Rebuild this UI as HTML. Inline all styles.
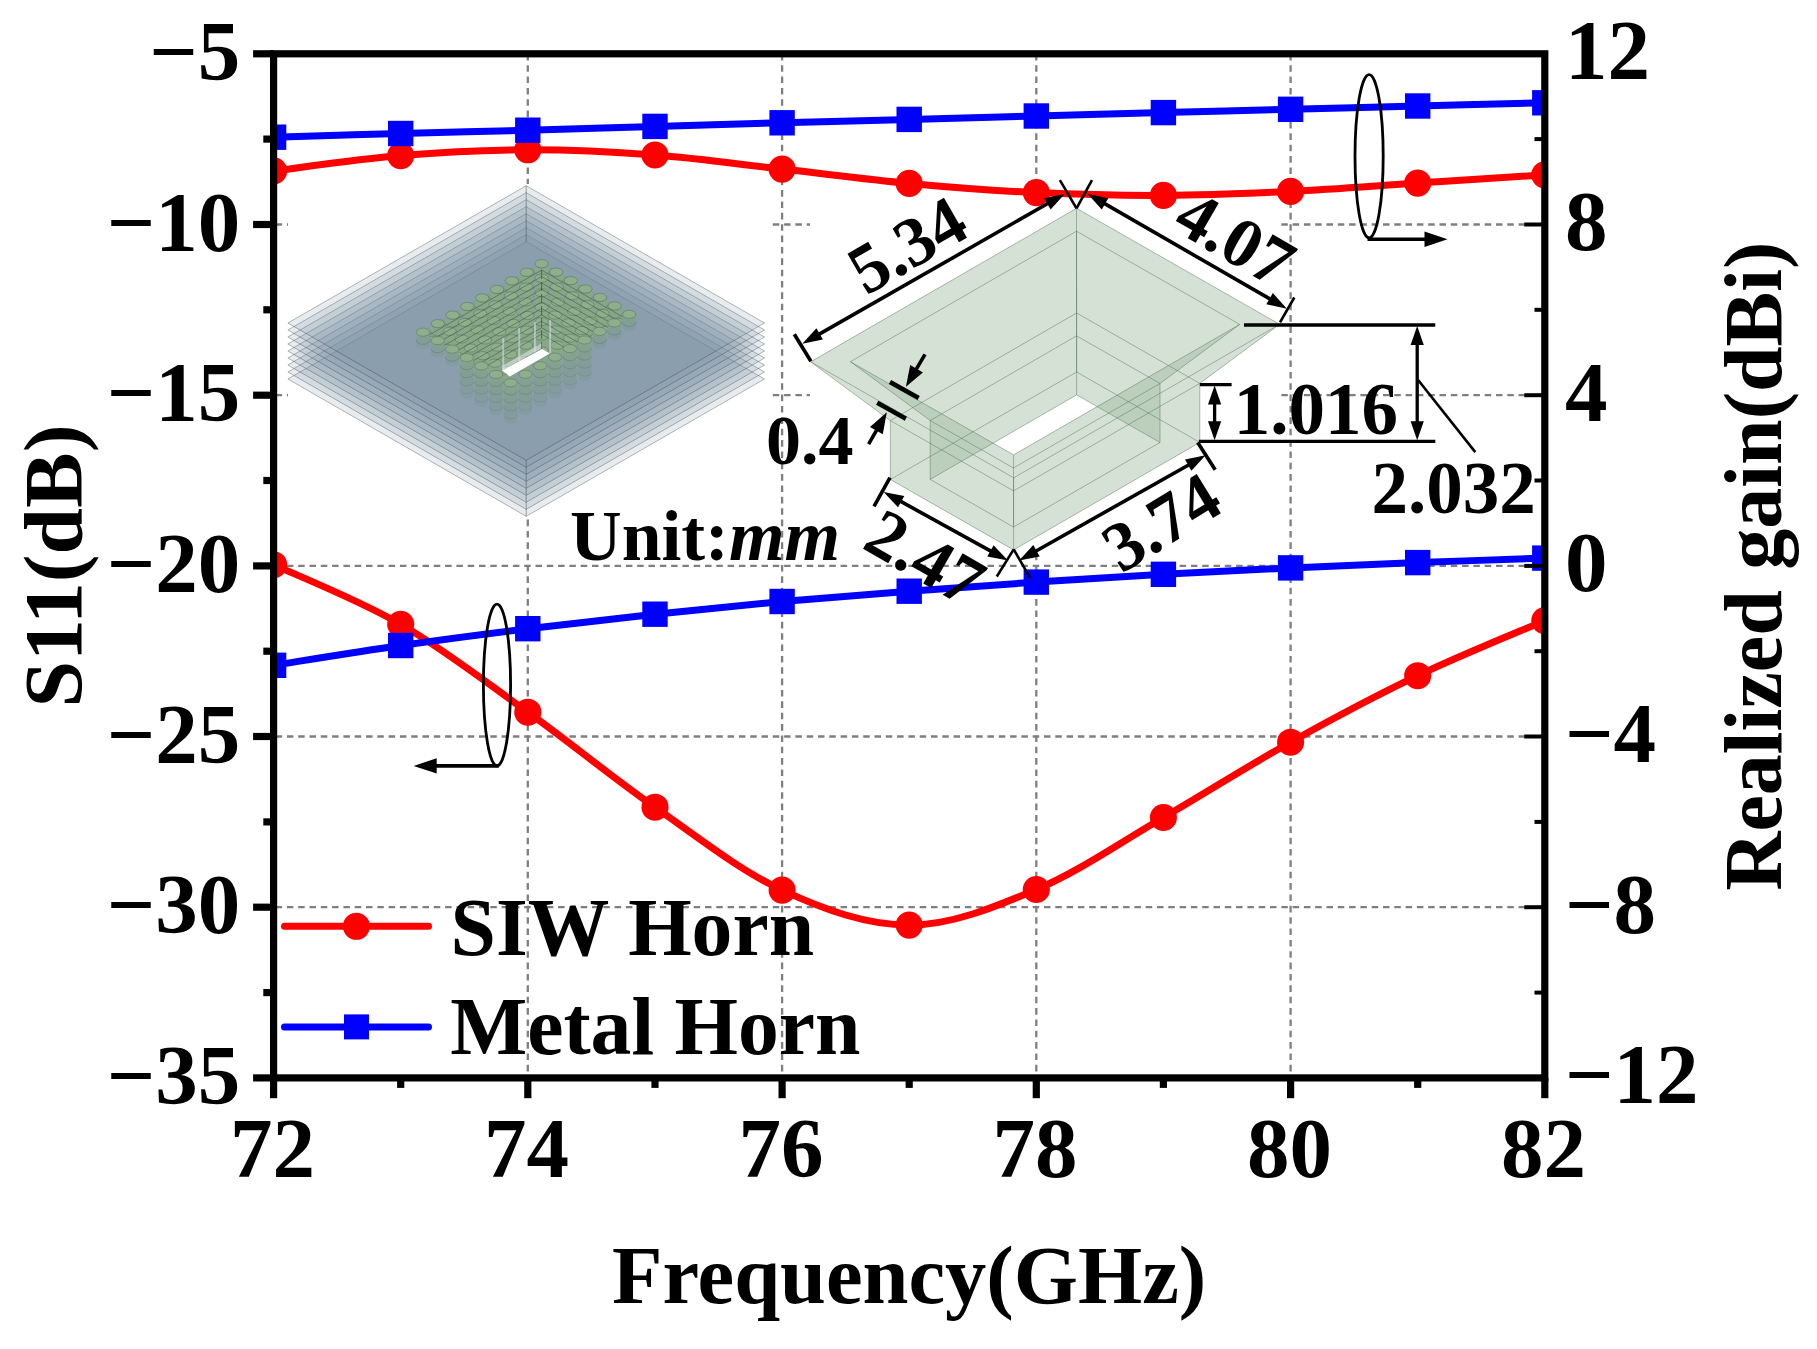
<!DOCTYPE html>
<html lang="en"><head><meta charset="utf-8"><title>S11 and realized gain</title><style>html,body{margin:0;padding:0;background:#fff}body{width:1817px;height:1349px;overflow:hidden}svg{display:block}</style></head><body><svg width="1817" height="1349" viewBox="0 0 1817 1349"><defs><clipPath id="plotclip"><rect x="273.6" y="53.8" width="1271.2" height="1024.1"/></clipPath></defs><rect width="1817" height="1349" fill="#fff"/>
<!-- grid -->
<g stroke="#7f7f7f" stroke-width="2.3" fill="none"><line x1="527.8" y1="53.8" x2="527.8" y2="1077.9" stroke-dasharray="6.6 4.76"/><line x1="782.1" y1="53.8" x2="782.1" y2="1077.9" stroke-dasharray="6.6 4.76"/><line x1="1036.3" y1="53.8" x2="1036.3" y2="1077.9" stroke-dasharray="6.6 4.76"/><line x1="1290.6" y1="53.8" x2="1290.6" y2="1077.9" stroke-dasharray="6.6 4.76"/><line x1="273.6" y1="224.5" x2="1544.8" y2="224.5" stroke-dasharray="6.5 4.8" stroke-dashoffset="-2"/><line x1="273.6" y1="395.2" x2="1544.8" y2="395.2" stroke-dasharray="6.5 4.8" stroke-dashoffset="-2"/><line x1="273.6" y1="565.9" x2="1544.8" y2="565.9" stroke-dasharray="6.5 4.8" stroke-dashoffset="-2"/><line x1="273.6" y1="736.5" x2="1544.8" y2="736.5" stroke-dasharray="6.5 4.8" stroke-dashoffset="-2"/><line x1="273.6" y1="907.2" x2="1544.8" y2="907.2" stroke-dasharray="6.5 4.8" stroke-dashoffset="-2"/></g>
<!-- insets -->
<rect x="288" y="184" width="481.5" height="334" fill="#fff"/><polygon points="526.2,241.7 764.5,379.0 526.2,516.3 287.9,379.0" fill="rgb(107,132,152)" fill-opacity="0.155" stroke="#2c3742" stroke-opacity="0.6" stroke-width="0.6"/><polygon points="526.2,234.7 764.5,372.0 526.2,509.3 287.9,372.0" fill="rgb(107,132,152)" fill-opacity="0.155" stroke="#2c3742" stroke-opacity="0.6" stroke-width="0.6"/><polygon points="526.2,227.7 764.5,365.0 526.2,502.3 287.9,365.0" fill="rgb(107,132,152)" fill-opacity="0.155" stroke="#2c3742" stroke-opacity="0.6" stroke-width="0.6"/><polygon points="526.2,220.7 764.5,358.0 526.2,495.3 287.9,358.0" fill="rgb(107,132,152)" fill-opacity="0.155" stroke="#2c3742" stroke-opacity="0.6" stroke-width="0.6"/><polygon points="526.2,213.7 764.5,351.0 526.2,488.3 287.9,351.0" fill="rgb(107,132,152)" fill-opacity="0.155" stroke="#2c3742" stroke-opacity="0.6" stroke-width="0.6"/><polygon points="526.2,206.7 764.5,344.0 526.2,481.3 287.9,344.0" fill="rgb(107,132,152)" fill-opacity="0.155" stroke="#2c3742" stroke-opacity="0.6" stroke-width="0.6"/><polygon points="526.2,199.7 764.5,337.0 526.2,474.3 287.9,337.0" fill="rgb(107,132,152)" fill-opacity="0.155" stroke="#2c3742" stroke-opacity="0.6" stroke-width="0.6"/><polygon points="526.2,192.7 764.5,330.0 526.2,467.3 287.9,330.0" fill="rgb(107,132,152)" fill-opacity="0.155" stroke="#2c3742" stroke-opacity="0.6" stroke-width="0.6"/><polygon points="526.2,185.7 764.5,323.0 526.2,460.3 287.9,323.0" fill="rgb(107,132,152)" fill-opacity="0.155" stroke="#2c3742" stroke-opacity="0.6" stroke-width="0.6"/><line x1="526.2" y1="185.7" x2="526.2" y2="241.7" stroke="#3c4650" stroke-opacity="0.6" stroke-width="0.8"/><line x1="526.2" y1="460.3" x2="526.2" y2="516.3" stroke="#3c4650" stroke-opacity="0.6" stroke-width="0.8"/><defs><linearGradient id="vgf" x1="0" y1="0" x2="0" y2="1"><stop offset="0" stop-color="#86a58a" stop-opacity="0.95"/><stop offset="0.4" stop-color="#809e8b" stop-opacity="0.78"/><stop offset="1" stop-color="#7b9590" stop-opacity="0.3"/></linearGradient><linearGradient id="vgb" x1="0" y1="0" x2="0" y2="1"><stop offset="0" stop-color="#88a888" stop-opacity="0.97"/><stop offset="1" stop-color="#86a58a" stop-opacity="0.8"/></linearGradient></defs><clipPath id="cav"><polygon points="541.6,261.7 632.2,314.3 510.6,385.8 420.0,332.2"/></clipPath><g clip-path="url(#cav)"><rect x="410" y="255" width="240" height="140" fill="#7f9d86" fill-opacity="0.28"/><path d="M534.9 263.7 v44.0 a6.7 4.1 0 0 0 13.4 0 v-44.0 z" fill="url(#vgb)"/><path d="M534.9 271.7 a6.7 4.1 0 0 0 13.4 0" fill="none" stroke="#3f5a48" stroke-opacity="0.42" stroke-width="0.6"/><path d="M534.9 279.7 a6.7 4.1 0 0 0 13.4 0" fill="none" stroke="#3f5a48" stroke-opacity="0.42" stroke-width="0.6"/><path d="M534.9 287.7 a6.7 4.1 0 0 0 13.4 0" fill="none" stroke="#3f5a48" stroke-opacity="0.42" stroke-width="0.6"/><path d="M534.9 295.7 a6.7 4.1 0 0 0 13.4 0" fill="none" stroke="#3f5a48" stroke-opacity="0.42" stroke-width="0.6"/><path d="M534.9 303.7 a6.7 4.1 0 0 0 13.4 0" fill="none" stroke="#3f5a48" stroke-opacity="0.42" stroke-width="0.6"/><ellipse cx="541.6" cy="263.7" rx="6.7" ry="4.1" fill="#8fae8c" stroke="#5a7a5e" stroke-width="0.6"/><path d="M549.5 272.1 v44.0 a6.7 4.1 0 0 0 13.4 0 v-44.0 z" fill="url(#vgb)"/><path d="M549.5 280.1 a6.7 4.1 0 0 0 13.4 0" fill="none" stroke="#3f5a48" stroke-opacity="0.42" stroke-width="0.6"/><path d="M549.5 288.1 a6.7 4.1 0 0 0 13.4 0" fill="none" stroke="#3f5a48" stroke-opacity="0.42" stroke-width="0.6"/><path d="M549.5 296.1 a6.7 4.1 0 0 0 13.4 0" fill="none" stroke="#3f5a48" stroke-opacity="0.42" stroke-width="0.6"/><path d="M549.5 304.1 a6.7 4.1 0 0 0 13.4 0" fill="none" stroke="#3f5a48" stroke-opacity="0.42" stroke-width="0.6"/><path d="M549.5 312.1 a6.7 4.1 0 0 0 13.4 0" fill="none" stroke="#3f5a48" stroke-opacity="0.42" stroke-width="0.6"/><ellipse cx="556.2" cy="272.1" rx="6.7" ry="4.1" fill="#8fae8c" stroke="#5a7a5e" stroke-width="0.6"/><path d="M520.1 272.3 v44.0 a6.7 4.1 0 0 0 13.4 0 v-44.0 z" fill="url(#vgb)"/><path d="M520.1 280.3 a6.7 4.1 0 0 0 13.4 0" fill="none" stroke="#3f5a48" stroke-opacity="0.42" stroke-width="0.6"/><path d="M520.1 288.3 a6.7 4.1 0 0 0 13.4 0" fill="none" stroke="#3f5a48" stroke-opacity="0.42" stroke-width="0.6"/><path d="M520.1 296.3 a6.7 4.1 0 0 0 13.4 0" fill="none" stroke="#3f5a48" stroke-opacity="0.42" stroke-width="0.6"/><path d="M520.1 304.3 a6.7 4.1 0 0 0 13.4 0" fill="none" stroke="#3f5a48" stroke-opacity="0.42" stroke-width="0.6"/><path d="M520.1 312.3 a6.7 4.1 0 0 0 13.4 0" fill="none" stroke="#3f5a48" stroke-opacity="0.42" stroke-width="0.6"/><ellipse cx="526.8" cy="272.3" rx="6.7" ry="4.1" fill="#8fae8c" stroke="#5a7a5e" stroke-width="0.6"/><path d="M534.9 278.2 v44.0 a6.7 4.1 0 0 0 13.4 0 v-44.0 z" fill="url(#vgb)"/><ellipse cx="541.6" cy="278.2" rx="6.7" ry="4.1" fill="#8fae8c" stroke="#5a7a5e" stroke-width="0.6"/><path d="M564.1 280.6 v44.0 a6.7 4.1 0 0 0 13.4 0 v-44.0 z" fill="url(#vgb)"/><path d="M564.1 288.6 a6.7 4.1 0 0 0 13.4 0" fill="none" stroke="#3f5a48" stroke-opacity="0.42" stroke-width="0.6"/><path d="M564.1 296.6 a6.7 4.1 0 0 0 13.4 0" fill="none" stroke="#3f5a48" stroke-opacity="0.42" stroke-width="0.6"/><path d="M564.1 304.6 a6.7 4.1 0 0 0 13.4 0" fill="none" stroke="#3f5a48" stroke-opacity="0.42" stroke-width="0.6"/><path d="M564.1 312.6 a6.7 4.1 0 0 0 13.4 0" fill="none" stroke="#3f5a48" stroke-opacity="0.42" stroke-width="0.6"/><path d="M564.1 320.6 a6.7 4.1 0 0 0 13.4 0" fill="none" stroke="#3f5a48" stroke-opacity="0.42" stroke-width="0.6"/><ellipse cx="570.8" cy="280.6" rx="6.7" ry="4.1" fill="#8fae8c" stroke="#5a7a5e" stroke-width="0.6"/><path d="M505.2 280.8 v44.0 a6.7 4.1 0 0 0 13.4 0 v-44.0 z" fill="url(#vgb)"/><path d="M505.2 288.8 a6.7 4.1 0 0 0 13.4 0" fill="none" stroke="#3f5a48" stroke-opacity="0.42" stroke-width="0.6"/><path d="M505.2 296.8 a6.7 4.1 0 0 0 13.4 0" fill="none" stroke="#3f5a48" stroke-opacity="0.42" stroke-width="0.6"/><path d="M505.2 304.8 a6.7 4.1 0 0 0 13.4 0" fill="none" stroke="#3f5a48" stroke-opacity="0.42" stroke-width="0.6"/><path d="M505.2 312.8 a6.7 4.1 0 0 0 13.4 0" fill="none" stroke="#3f5a48" stroke-opacity="0.42" stroke-width="0.6"/><path d="M505.2 320.8 a6.7 4.1 0 0 0 13.4 0" fill="none" stroke="#3f5a48" stroke-opacity="0.42" stroke-width="0.6"/><ellipse cx="511.9" cy="280.8" rx="6.7" ry="4.1" fill="#8fae8c" stroke="#5a7a5e" stroke-width="0.6"/><path d="M550.2 287.0 v44.0 a6.7 4.1 0 0 0 13.4 0 v-44.0 z" fill="url(#vgb)"/><ellipse cx="556.9" cy="287.0" rx="6.7" ry="4.1" fill="#8fae8c" stroke="#5a7a5e" stroke-width="0.6"/><path d="M519.6 287.1 v44.0 a6.7 4.1 0 0 0 13.4 0 v-44.0 z" fill="url(#vgb)"/><ellipse cx="526.3" cy="287.1" rx="6.7" ry="4.1" fill="#8fae8c" stroke="#5a7a5e" stroke-width="0.6"/><path d="M534.9 292.7 v40.0 a6.7 4.1 0 0 0 13.4 0 v-40.0 z" fill="url(#vgb)"/><ellipse cx="541.6" cy="292.7" rx="6.7" ry="4.1" fill="#8fae8c" stroke="#5a7a5e" stroke-width="0.6"/><path d="M578.7 289.0 v44.0 a6.7 4.1 0 0 0 13.4 0 v-44.0 z" fill="url(#vgb)"/><path d="M578.7 297.0 a6.7 4.1 0 0 0 13.4 0" fill="none" stroke="#3f5a48" stroke-opacity="0.42" stroke-width="0.6"/><path d="M578.7 305.0 a6.7 4.1 0 0 0 13.4 0" fill="none" stroke="#3f5a48" stroke-opacity="0.42" stroke-width="0.6"/><path d="M578.7 313.0 a6.7 4.1 0 0 0 13.4 0" fill="none" stroke="#3f5a48" stroke-opacity="0.42" stroke-width="0.6"/><path d="M578.7 321.0 a6.7 4.1 0 0 0 13.4 0" fill="none" stroke="#3f5a48" stroke-opacity="0.42" stroke-width="0.6"/><path d="M578.7 329.0 a6.7 4.1 0 0 0 13.4 0" fill="none" stroke="#3f5a48" stroke-opacity="0.42" stroke-width="0.6"/><ellipse cx="585.4" cy="289.0" rx="6.7" ry="4.1" fill="#8fae8c" stroke="#5a7a5e" stroke-width="0.6"/><path d="M490.4 289.4 v44.0 a6.7 4.1 0 0 0 13.4 0 v-44.0 z" fill="url(#vgb)"/><path d="M490.4 297.4 a6.7 4.1 0 0 0 13.4 0" fill="none" stroke="#3f5a48" stroke-opacity="0.42" stroke-width="0.6"/><path d="M490.4 305.4 a6.7 4.1 0 0 0 13.4 0" fill="none" stroke="#3f5a48" stroke-opacity="0.42" stroke-width="0.6"/><path d="M490.4 313.4 a6.7 4.1 0 0 0 13.4 0" fill="none" stroke="#3f5a48" stroke-opacity="0.42" stroke-width="0.6"/><path d="M490.4 321.4 a6.7 4.1 0 0 0 13.4 0" fill="none" stroke="#3f5a48" stroke-opacity="0.42" stroke-width="0.6"/><path d="M490.4 329.4 a6.7 4.1 0 0 0 13.4 0" fill="none" stroke="#3f5a48" stroke-opacity="0.42" stroke-width="0.6"/><ellipse cx="497.1" cy="289.4" rx="6.7" ry="4.1" fill="#8fae8c" stroke="#5a7a5e" stroke-width="0.6"/><path d="M534.9 307.2 v32.0 a6.7 4.1 0 0 0 13.4 0 v-32.0 z" fill="url(#vgb)"/><ellipse cx="541.6" cy="307.2" rx="6.7" ry="4.1" fill="#8fae8c" stroke="#5a7a5e" stroke-width="0.6"/><path d="M565.5 295.8 v44.0 a6.7 4.1 0 0 0 13.4 0 v-44.0 z" fill="url(#vgb)"/><ellipse cx="572.2" cy="295.8" rx="6.7" ry="4.1" fill="#8fae8c" stroke="#5a7a5e" stroke-width="0.6"/><path d="M504.2 295.9 v44.0 a6.7 4.1 0 0 0 13.4 0 v-44.0 z" fill="url(#vgb)"/><ellipse cx="510.9" cy="295.9" rx="6.7" ry="4.1" fill="#8fae8c" stroke="#5a7a5e" stroke-width="0.6"/><path d="M593.3 297.4 v44.0 a6.7 4.1 0 0 0 13.4 0 v-44.0 z" fill="url(#vgb)"/><path d="M593.3 305.4 a6.7 4.1 0 0 0 13.4 0" fill="none" stroke="#3f5a48" stroke-opacity="0.42" stroke-width="0.6"/><path d="M593.3 313.4 a6.7 4.1 0 0 0 13.4 0" fill="none" stroke="#3f5a48" stroke-opacity="0.42" stroke-width="0.6"/><path d="M593.3 321.4 a6.7 4.1 0 0 0 13.4 0" fill="none" stroke="#3f5a48" stroke-opacity="0.42" stroke-width="0.6"/><path d="M593.3 329.4 a6.7 4.1 0 0 0 13.4 0" fill="none" stroke="#3f5a48" stroke-opacity="0.42" stroke-width="0.6"/><path d="M593.3 337.4 a6.7 4.1 0 0 0 13.4 0" fill="none" stroke="#3f5a48" stroke-opacity="0.42" stroke-width="0.6"/><ellipse cx="600.0" cy="297.4" rx="6.7" ry="4.1" fill="#8fae8c" stroke="#5a7a5e" stroke-width="0.6"/><path d="M475.6 297.9 v44.0 a6.7 4.1 0 0 0 13.4 0 v-44.0 z" fill="url(#vgb)"/><path d="M475.6 305.9 a6.7 4.1 0 0 0 13.4 0" fill="none" stroke="#3f5a48" stroke-opacity="0.42" stroke-width="0.6"/><path d="M475.6 313.9 a6.7 4.1 0 0 0 13.4 0" fill="none" stroke="#3f5a48" stroke-opacity="0.42" stroke-width="0.6"/><path d="M475.6 321.9 a6.7 4.1 0 0 0 13.4 0" fill="none" stroke="#3f5a48" stroke-opacity="0.42" stroke-width="0.6"/><path d="M475.6 329.9 a6.7 4.1 0 0 0 13.4 0" fill="none" stroke="#3f5a48" stroke-opacity="0.42" stroke-width="0.6"/><path d="M475.6 337.9 a6.7 4.1 0 0 0 13.4 0" fill="none" stroke="#3f5a48" stroke-opacity="0.42" stroke-width="0.6"/><ellipse cx="482.3" cy="297.9" rx="6.7" ry="4.1" fill="#8fae8c" stroke="#5a7a5e" stroke-width="0.6"/><path d="M518.9 301.9 v40.0 a6.7 4.1 0 0 0 13.4 0 v-40.0 z" fill="url(#vgb)"/><ellipse cx="525.6" cy="301.9" rx="6.7" ry="4.1" fill="#8fae8c" stroke="#5a7a5e" stroke-width="0.6"/><path d="M551.2 302.1 v40.0 a6.7 4.1 0 0 0 13.4 0 v-40.0 z" fill="url(#vgb)"/><ellipse cx="557.9" cy="302.1" rx="6.7" ry="4.1" fill="#8fae8c" stroke="#5a7a5e" stroke-width="0.6"/><path d="M534.9 321.7 v24.0 a6.7 4.1 0 0 0 13.4 0 v-24.0 z" fill="url(#vgb)"/><ellipse cx="541.6" cy="321.7" rx="6.7" ry="4.1" fill="#8fae8c" stroke="#5a7a5e" stroke-width="0.6"/><path d="M548.4 315.0 v32.0 a6.7 4.1 0 0 0 13.4 0 v-32.0 z" fill="url(#vgb)"/><ellipse cx="555.1" cy="315.0" rx="6.7" ry="4.1" fill="#8fae8c" stroke="#5a7a5e" stroke-width="0.6"/><path d="M520.8 315.4 v32.0 a6.7 4.1 0 0 0 13.4 0 v-32.0 z" fill="url(#vgb)"/><ellipse cx="527.5" cy="315.4" rx="6.7" ry="4.1" fill="#8fae8c" stroke="#5a7a5e" stroke-width="0.6"/><path d="M580.7 304.7 v44.0 a6.7 4.1 0 0 0 13.4 0 v-44.0 z" fill="url(#vgb)"/><ellipse cx="587.4" cy="304.7" rx="6.7" ry="4.1" fill="#8fae8c" stroke="#5a7a5e" stroke-width="0.6"/><path d="M488.9 304.8 v44.0 a6.7 4.1 0 0 0 13.4 0 v-44.0 z" fill="url(#vgb)"/><ellipse cx="495.6" cy="304.8" rx="6.7" ry="4.1" fill="#8fae8c" stroke="#5a7a5e" stroke-width="0.6"/><path d="M607.9 305.9 v44.0 a6.7 4.1 0 0 0 13.4 0 v-44.0 z" fill="url(#vgb)"/><path d="M607.9 313.9 a6.7 4.1 0 0 0 13.4 0" fill="none" stroke="#3f5a48" stroke-opacity="0.42" stroke-width="0.6"/><path d="M607.9 321.9 a6.7 4.1 0 0 0 13.4 0" fill="none" stroke="#3f5a48" stroke-opacity="0.42" stroke-width="0.6"/><path d="M607.9 329.9 a6.7 4.1 0 0 0 13.4 0" fill="none" stroke="#3f5a48" stroke-opacity="0.42" stroke-width="0.6"/><path d="M607.9 337.9 a6.7 4.1 0 0 0 13.4 0" fill="none" stroke="#3f5a48" stroke-opacity="0.42" stroke-width="0.6"/><path d="M607.9 345.9 a6.7 4.1 0 0 0 13.4 0" fill="none" stroke="#3f5a48" stroke-opacity="0.42" stroke-width="0.6"/><ellipse cx="614.6" cy="305.9" rx="6.7" ry="4.1" fill="#8fae8c" stroke="#5a7a5e" stroke-width="0.6"/><path d="M460.7 306.5 v44.0 a6.7 4.1 0 0 0 13.4 0 v-44.0 z" fill="url(#vgb)"/><path d="M460.7 314.5 a6.7 4.1 0 0 0 13.4 0" fill="none" stroke="#3f5a48" stroke-opacity="0.42" stroke-width="0.6"/><path d="M460.7 322.5 a6.7 4.1 0 0 0 13.4 0" fill="none" stroke="#3f5a48" stroke-opacity="0.42" stroke-width="0.6"/><path d="M460.7 330.5 a6.7 4.1 0 0 0 13.4 0" fill="none" stroke="#3f5a48" stroke-opacity="0.42" stroke-width="0.6"/><path d="M460.7 338.5 a6.7 4.1 0 0 0 13.4 0" fill="none" stroke="#3f5a48" stroke-opacity="0.42" stroke-width="0.6"/><path d="M460.7 346.5 a6.7 4.1 0 0 0 13.4 0" fill="none" stroke="#3f5a48" stroke-opacity="0.42" stroke-width="0.6"/><ellipse cx="467.4" cy="306.5" rx="6.7" ry="4.1" fill="#8fae8c" stroke="#5a7a5e" stroke-width="0.6"/><path d="M502.9 311.2 v40.0 a6.7 4.1 0 0 0 13.4 0 v-40.0 z" fill="url(#vgb)"/><ellipse cx="509.6" cy="311.2" rx="6.7" ry="4.1" fill="#8fae8c" stroke="#5a7a5e" stroke-width="0.6"/><path d="M567.5 311.5 v40.0 a6.7 4.1 0 0 0 13.4 0 v-40.0 z" fill="url(#vgb)"/><ellipse cx="574.2" cy="311.5" rx="6.7" ry="4.1" fill="#8fae8c" stroke="#5a7a5e" stroke-width="0.6"/><path d="M534.9 336.2 v16.0 a6.7 4.1 0 0 0 13.4 0 v-16.0 z" fill="url(#vgb)"/><ellipse cx="541.6" cy="336.2" rx="6.7" ry="4.1" fill="#8fae8c" stroke="#5a7a5e" stroke-width="0.6"/><path d="M549.1 329.9 v24.0 a6.7 4.1 0 0 0 13.4 0 v-24.0 z" fill="url(#vgb)"/><ellipse cx="555.8" cy="329.9" rx="6.7" ry="4.1" fill="#8fae8c" stroke="#5a7a5e" stroke-width="0.6"/><path d="M520.2 330.2 v24.0 a6.7 4.1 0 0 0 13.4 0 v-24.0 z" fill="url(#vgb)"/><ellipse cx="526.9" cy="330.2" rx="6.7" ry="4.1" fill="#8fae8c" stroke="#5a7a5e" stroke-width="0.6"/><path d="M561.8 322.8 v32.0 a6.7 4.1 0 0 0 13.4 0 v-32.0 z" fill="url(#vgb)"/><ellipse cx="568.5" cy="322.8" rx="6.7" ry="4.1" fill="#8fae8c" stroke="#5a7a5e" stroke-width="0.6"/><path d="M506.6 323.5 v32.0 a6.7 4.1 0 0 0 13.4 0 v-32.0 z" fill="url(#vgb)"/><ellipse cx="513.3" cy="323.5" rx="6.7" ry="4.1" fill="#8fae8c" stroke="#5a7a5e" stroke-width="0.6"/><path d="M596.0 313.5 v44.0 a6.7 4.1 0 0 0 13.4 0 v-44.0 z" fill="url(#vgb)"/><ellipse cx="602.7" cy="313.5" rx="6.7" ry="4.1" fill="#8fae8c" stroke="#5a7a5e" stroke-width="0.6"/><path d="M473.5 313.6 v44.0 a6.7 4.1 0 0 0 13.4 0 v-44.0 z" fill="url(#vgb)"/><ellipse cx="480.2" cy="313.6" rx="6.7" ry="4.1" fill="#8fae8c" stroke="#5a7a5e" stroke-width="0.6"/><path d="M534.9 350.7 v8.0 a6.7 4.1 0 0 0 13.4 0 v-8.0 z" fill="url(#vgb)"/><ellipse cx="541.6" cy="350.7" rx="6.7" ry="4.1" fill="#8fae8c" stroke="#5a7a5e" stroke-width="0.6"/><path d="M445.9 315.1 v44.0 a6.7 4.1 0 0 0 13.4 0 v-44.0 z" fill="url(#vgb)"/><path d="M445.9 323.1 a6.7 4.1 0 0 0 13.4 0" fill="none" stroke="#3f5a48" stroke-opacity="0.42" stroke-width="0.6"/><path d="M445.9 331.1 a6.7 4.1 0 0 0 13.4 0" fill="none" stroke="#3f5a48" stroke-opacity="0.42" stroke-width="0.6"/><path d="M445.9 339.1 a6.7 4.1 0 0 0 13.4 0" fill="none" stroke="#3f5a48" stroke-opacity="0.42" stroke-width="0.6"/><path d="M445.9 347.1 a6.7 4.1 0 0 0 13.4 0" fill="none" stroke="#3f5a48" stroke-opacity="0.42" stroke-width="0.6"/><path d="M445.9 355.1 a6.7 4.1 0 0 0 13.4 0" fill="none" stroke="#3f5a48" stroke-opacity="0.42" stroke-width="0.6"/><ellipse cx="452.6" cy="315.1" rx="6.7" ry="4.1" fill="#8fae8c" stroke="#5a7a5e" stroke-width="0.6"/><path d="M486.8 320.4 v40.0 a6.7 4.1 0 0 0 13.4 0 v-40.0 z" fill="url(#vgb)"/><ellipse cx="493.5" cy="320.4" rx="6.7" ry="4.1" fill="#8fae8c" stroke="#5a7a5e" stroke-width="0.6"/><path d="M583.7 320.9 v40.0 a6.7 4.1 0 0 0 13.4 0 v-40.0 z" fill="url(#vgb)"/><ellipse cx="590.4" cy="320.9" rx="6.7" ry="4.1" fill="#8fae8c" stroke="#5a7a5e" stroke-width="0.6"/><path d="M519.3 345.2 v16.0 a6.7 4.1 0 0 0 13.4 0 v-16.0 z" fill="url(#vgb)"/><ellipse cx="526.0" cy="345.2" rx="6.7" ry="4.1" fill="#8fae8c" stroke="#5a7a5e" stroke-width="0.6"/><path d="M550.6 345.2 v16.0 a6.7 4.1 0 0 0 13.4 0 v-16.0 z" fill="url(#vgb)"/><ellipse cx="557.3" cy="345.2" rx="6.7" ry="4.1" fill="#8fae8c" stroke="#5a7a5e" stroke-width="0.6"/><path d="M563.3 338.1 v24.0 a6.7 4.1 0 0 0 13.4 0 v-24.0 z" fill="url(#vgb)"/><ellipse cx="570.0" cy="338.1" rx="6.7" ry="4.1" fill="#8fae8c" stroke="#5a7a5e" stroke-width="0.6"/><path d="M575.3 330.5 v32.0 a6.7 4.1 0 0 0 13.4 0 v-32.0 z" fill="url(#vgb)"/><ellipse cx="582.0" cy="330.5" rx="6.7" ry="4.1" fill="#8fae8c" stroke="#5a7a5e" stroke-width="0.6"/><path d="M505.5 338.7 v24.0 a6.7 4.1 0 0 0 13.4 0 v-24.0 z" fill="url(#vgb)"/><ellipse cx="512.2" cy="338.7" rx="6.7" ry="4.1" fill="#8fae8c" stroke="#5a7a5e" stroke-width="0.6"/><path d="M492.5 331.7 v32.0 a6.7 4.1 0 0 0 13.4 0 v-32.0 z" fill="url(#vgb)"/><ellipse cx="499.2" cy="331.7" rx="6.7" ry="4.1" fill="#8fae8c" stroke="#5a7a5e" stroke-width="0.6"/><path d="M611.3 322.3 v44.0 a6.7 4.1 0 0 0 13.4 0 v-44.0 z" fill="url(#vgb)"/><ellipse cx="618.0" cy="322.3" rx="6.7" ry="4.1" fill="#8fae8c" stroke="#5a7a5e" stroke-width="0.6"/><path d="M458.2 322.5 v44.0 a6.7 4.1 0 0 0 13.4 0 v-44.0 z" fill="url(#vgb)"/><ellipse cx="464.9" cy="322.5" rx="6.7" ry="4.1" fill="#8fae8c" stroke="#5a7a5e" stroke-width="0.6"/><path d="M431.1 323.6 v44.0 a6.7 4.1 0 0 0 13.4 0 v-44.0 z" fill="url(#vgb)"/><path d="M431.1 331.6 a6.7 4.1 0 0 0 13.4 0" fill="none" stroke="#3f5a48" stroke-opacity="0.42" stroke-width="0.6"/><path d="M431.1 339.6 a6.7 4.1 0 0 0 13.4 0" fill="none" stroke="#3f5a48" stroke-opacity="0.42" stroke-width="0.6"/><path d="M431.1 347.6 a6.7 4.1 0 0 0 13.4 0" fill="none" stroke="#3f5a48" stroke-opacity="0.42" stroke-width="0.6"/><path d="M431.1 355.6 a6.7 4.1 0 0 0 13.4 0" fill="none" stroke="#3f5a48" stroke-opacity="0.42" stroke-width="0.6"/><path d="M431.1 363.6 a6.7 4.1 0 0 0 13.4 0" fill="none" stroke="#3f5a48" stroke-opacity="0.42" stroke-width="0.6"/><ellipse cx="437.8" cy="323.6" rx="6.7" ry="4.1" fill="#8fae8c" stroke="#5a7a5e" stroke-width="0.6"/><path d="M517.9 360.5 v8.0 a6.7 4.1 0 0 0 13.4 0 v-8.0 z" fill="url(#vgb)"/><ellipse cx="524.6" cy="360.5" rx="6.7" ry="4.1" fill="#8fae8c" stroke="#5a7a5e" stroke-width="0.6"/><path d="M470.8 329.7 v40.0 a6.7 4.1 0 0 0 13.4 0 v-40.0 z" fill="url(#vgb)"/><ellipse cx="477.5" cy="329.7" rx="6.7" ry="4.1" fill="#8fae8c" stroke="#5a7a5e" stroke-width="0.6"/><path d="M503.7 354.2 v16.0 a6.7 4.1 0 0 0 13.4 0 v-16.0 z" fill="url(#vgb)"/><ellipse cx="510.4" cy="354.2" rx="6.7" ry="4.1" fill="#8fae8c" stroke="#5a7a5e" stroke-width="0.6"/><path d="M555.0 362.3 v8.0 a6.7 4.1 0 0 0 13.4 0 v-8.0 z" fill="url(#vgb)"/><ellipse cx="561.7" cy="362.3" rx="6.7" ry="4.1" fill="#8fae8c" stroke="#5a7a5e" stroke-width="0.6"/><path d="M566.2 354.3 v16.0 a6.7 4.1 0 0 0 13.4 0 v-16.0 z" fill="url(#vgb)"/><ellipse cx="572.9" cy="354.3" rx="6.7" ry="4.1" fill="#8fae8c" stroke="#5a7a5e" stroke-width="0.6"/><path d="M577.5 346.3 v24.0 a6.7 4.1 0 0 0 13.4 0 v-24.0 z" fill="url(#vgb)"/><ellipse cx="584.2" cy="346.3" rx="6.7" ry="4.1" fill="#8fae8c" stroke="#5a7a5e" stroke-width="0.6"/><path d="M588.8 338.3 v32.0 a6.7 4.1 0 0 0 13.4 0 v-32.0 z" fill="url(#vgb)"/><ellipse cx="595.5" cy="338.3" rx="6.7" ry="4.1" fill="#8fae8c" stroke="#5a7a5e" stroke-width="0.6"/><path d="M600.0 330.3 v40.0 a6.7 4.1 0 0 0 13.4 0 v-40.0 z" fill="url(#vgb)"/><ellipse cx="606.7" cy="330.3" rx="6.7" ry="4.1" fill="#8fae8c" stroke="#5a7a5e" stroke-width="0.6"/><path d="M490.7 347.2 v24.0 a6.7 4.1 0 0 0 13.4 0 v-24.0 z" fill="url(#vgb)"/><ellipse cx="497.4" cy="347.2" rx="6.7" ry="4.1" fill="#8fae8c" stroke="#5a7a5e" stroke-width="0.6"/><path d="M478.3 339.9 v32.0 a6.7 4.1 0 0 0 13.4 0 v-32.0 z" fill="url(#vgb)"/><ellipse cx="485.0" cy="339.9" rx="6.7" ry="4.1" fill="#8fae8c" stroke="#5a7a5e" stroke-width="0.6"/><path d="M442.9 331.3 v44.0 a6.7 4.1 0 0 0 13.4 0 v-44.0 z" fill="url(#vgb)"/><ellipse cx="449.6" cy="331.3" rx="6.7" ry="4.1" fill="#8fae8c" stroke="#5a7a5e" stroke-width="0.6"/><path d="M500.8 370.4 v8.0 a6.7 4.1 0 0 0 13.4 0 v-8.0 z" fill="url(#vgb)"/><ellipse cx="507.5" cy="370.4" rx="6.7" ry="4.1" fill="#8fae8c" stroke="#5a7a5e" stroke-width="0.6"/><path d="M454.8 338.9 v40.0 a6.7 4.1 0 0 0 13.4 0 v-40.0 z" fill="url(#vgb)"/><ellipse cx="461.5" cy="338.9" rx="6.7" ry="4.1" fill="#8fae8c" stroke="#5a7a5e" stroke-width="0.6"/><path d="M488.1 363.2 v16.0 a6.7 4.1 0 0 0 13.4 0 v-16.0 z" fill="url(#vgb)"/><ellipse cx="494.8" cy="363.2" rx="6.7" ry="4.1" fill="#8fae8c" stroke="#5a7a5e" stroke-width="0.6"/><path d="M476.0 355.7 v24.0 a6.7 4.1 0 0 0 13.4 0 v-24.0 z" fill="url(#vgb)"/><ellipse cx="482.7" cy="355.7" rx="6.7" ry="4.1" fill="#8fae8c" stroke="#5a7a5e" stroke-width="0.6"/><path d="M464.2 348.0 v32.0 a6.7 4.1 0 0 0 13.4 0 v-32.0 z" fill="url(#vgb)"/><ellipse cx="470.9" cy="348.0" rx="6.7" ry="4.1" fill="#8fae8c" stroke="#5a7a5e" stroke-width="0.6"/><path d="M427.5 340.2 v44.0 a6.7 4.1 0 0 0 13.4 0 v-44.0 z" fill="url(#vgb)"/><ellipse cx="434.2" cy="340.2" rx="6.7" ry="4.1" fill="#8fae8c" stroke="#5a7a5e" stroke-width="0.6"/><path d="M438.8 348.2 v40.0 a6.7 4.1 0 0 0 13.4 0 v-40.0 z" fill="url(#vgb)"/><ellipse cx="445.5" cy="348.2" rx="6.7" ry="4.1" fill="#8fae8c" stroke="#5a7a5e" stroke-width="0.6"/><path d="M450.0 356.2 v32.0 a6.7 4.1 0 0 0 13.4 0 v-32.0 z" fill="url(#vgb)"/><ellipse cx="456.7" cy="356.2" rx="6.7" ry="4.1" fill="#8fae8c" stroke="#5a7a5e" stroke-width="0.6"/><path d="M461.3 364.2 v24.0 a6.7 4.1 0 0 0 13.4 0 v-24.0 z" fill="url(#vgb)"/><ellipse cx="468.0" cy="364.2" rx="6.7" ry="4.1" fill="#8fae8c" stroke="#5a7a5e" stroke-width="0.6"/><path d="M472.5 372.2 v16.0 a6.7 4.1 0 0 0 13.4 0 v-16.0 z" fill="url(#vgb)"/><ellipse cx="479.2" cy="372.2" rx="6.7" ry="4.1" fill="#8fae8c" stroke="#5a7a5e" stroke-width="0.6"/><path d="M483.8 380.2 v8.0 a6.7 4.1 0 0 0 13.4 0 v-8.0 z" fill="url(#vgb)"/><ellipse cx="490.5" cy="380.2" rx="6.7" ry="4.1" fill="#8fae8c" stroke="#5a7a5e" stroke-width="0.6"/></g><ellipse cx="541.6" cy="263.7" rx="6.7" ry="4.1" fill="#8fae8c" stroke="#5a7a5e" stroke-width="0.6"/><ellipse cx="556.2" cy="272.1" rx="6.7" ry="4.1" fill="#8fae8c" stroke="#5a7a5e" stroke-width="0.6"/><ellipse cx="526.8" cy="272.3" rx="6.7" ry="4.1" fill="#8fae8c" stroke="#5a7a5e" stroke-width="0.6"/><ellipse cx="570.8" cy="280.6" rx="6.7" ry="4.1" fill="#8fae8c" stroke="#5a7a5e" stroke-width="0.6"/><ellipse cx="511.9" cy="280.8" rx="6.7" ry="4.1" fill="#8fae8c" stroke="#5a7a5e" stroke-width="0.6"/><ellipse cx="585.4" cy="289.0" rx="6.7" ry="4.1" fill="#8fae8c" stroke="#5a7a5e" stroke-width="0.6"/><ellipse cx="497.1" cy="289.4" rx="6.7" ry="4.1" fill="#8fae8c" stroke="#5a7a5e" stroke-width="0.6"/><ellipse cx="600.0" cy="297.4" rx="6.7" ry="4.1" fill="#8fae8c" stroke="#5a7a5e" stroke-width="0.6"/><ellipse cx="482.3" cy="297.9" rx="6.7" ry="4.1" fill="#8fae8c" stroke="#5a7a5e" stroke-width="0.6"/><ellipse cx="614.6" cy="305.9" rx="6.7" ry="4.1" fill="#8fae8c" stroke="#5a7a5e" stroke-width="0.6"/><ellipse cx="467.4" cy="306.5" rx="6.7" ry="4.1" fill="#8fae8c" stroke="#5a7a5e" stroke-width="0.6"/><ellipse cx="452.6" cy="315.1" rx="6.7" ry="4.1" fill="#8fae8c" stroke="#5a7a5e" stroke-width="0.6"/><ellipse cx="437.8" cy="323.6" rx="6.7" ry="4.1" fill="#8fae8c" stroke="#5a7a5e" stroke-width="0.6"/><g clip-path="url(#cav)" fill="none" stroke="#2f4637" stroke-opacity="0.62" stroke-width="0.75"><path d="M423.0 338.6 L541.6 270.1 L629.2 320.7"/><path d="M423.0 345.0 L541.6 276.5 L629.2 327.1"/><path d="M423.0 351.4 L541.6 282.9 L629.2 333.5"/><path d="M423.0 357.8 L541.6 289.3 L629.2 339.9"/><path d="M423.0 364.2 L541.6 295.7 L629.2 346.3"/><path d="M423.0 370.6 L541.6 302.1 L629.2 352.7"/><path d="M423.0 377.0 L541.6 308.5 L629.2 359.1"/><path d="M423.0 383.4 L541.6 314.9 L629.2 365.5"/><path d="M423.0 389.8 L541.6 321.3 L629.2 371.9"/><path d="M423.0 396.2 L541.6 327.7 L629.2 378.3"/><path d="M423.0 402.6 L541.6 334.1 L629.2 384.7"/></g><path d="M622.5 314.3 v13.0 a6.7 4.1 0 0 0 13.4 0 v-13.0 z" fill="url(#vgf)"/><path d="M622.5 322.3 a6.7 4.1 0 0 0 13.4 0" fill="none" stroke="#3f5a48" stroke-opacity="0.43" stroke-width="0.6"/><ellipse cx="629.2" cy="314.3" rx="6.7" ry="4.1" fill="#8fae8c" stroke="#5a7a5e" stroke-width="0.6"/><path d="M607.7 322.9 v13.0 a6.7 4.1 0 0 0 13.4 0 v-13.0 z" fill="url(#vgf)"/><path d="M607.7 330.9 a6.7 4.1 0 0 0 13.4 0" fill="none" stroke="#3f5a48" stroke-opacity="0.43" stroke-width="0.6"/><ellipse cx="614.4" cy="322.9" rx="6.7" ry="4.1" fill="#8fae8c" stroke="#5a7a5e" stroke-width="0.6"/><path d="M592.9 331.4 v13.0 a6.7 4.1 0 0 0 13.4 0 v-13.0 z" fill="url(#vgf)"/><path d="M592.9 339.4 a6.7 4.1 0 0 0 13.4 0" fill="none" stroke="#3f5a48" stroke-opacity="0.43" stroke-width="0.6"/><ellipse cx="599.6" cy="331.4" rx="6.7" ry="4.1" fill="#8fae8c" stroke="#5a7a5e" stroke-width="0.6"/><path d="M416.3 332.2 v13.0 a6.7 4.1 0 0 0 13.4 0 v-13.0 z" fill="url(#vgf)"/><path d="M416.3 340.2 a6.7 4.1 0 0 0 13.4 0" fill="none" stroke="#3f5a48" stroke-opacity="0.43" stroke-width="0.6"/><ellipse cx="423.0" cy="332.2" rx="6.7" ry="4.1" fill="#8fae8c" stroke="#5a7a5e" stroke-width="0.6"/><path d="M430.9 340.6 v13.0 a6.7 4.1 0 0 0 13.4 0 v-13.0 z" fill="url(#vgf)"/><path d="M430.9 348.6 a6.7 4.1 0 0 0 13.4 0" fill="none" stroke="#3f5a48" stroke-opacity="0.43" stroke-width="0.6"/><ellipse cx="437.6" cy="340.6" rx="6.7" ry="4.1" fill="#8fae8c" stroke="#5a7a5e" stroke-width="0.6"/><path d="M445.5 349.1 v13.0 a6.7 4.1 0 0 0 13.4 0 v-13.0 z" fill="url(#vgf)"/><path d="M445.5 357.1 a6.7 4.1 0 0 0 13.4 0" fill="none" stroke="#3f5a48" stroke-opacity="0.43" stroke-width="0.6"/><ellipse cx="452.2" cy="349.1" rx="6.7" ry="4.1" fill="#8fae8c" stroke="#5a7a5e" stroke-width="0.6"/><path d="M578.0 340.0 v37.0 a6.7 4.1 0 0 0 13.4 0 v-37.0 z" fill="url(#vgf)"/><path d="M578.0 348.0 a6.7 4.1 0 0 0 13.4 0" fill="none" stroke="#3f5a48" stroke-opacity="0.43" stroke-width="0.6"/><path d="M578.0 356.0 a6.7 4.1 0 0 0 13.4 0" fill="none" stroke="#3f5a48" stroke-opacity="0.36" stroke-width="0.6"/><path d="M578.0 364.0 a6.7 4.1 0 0 0 13.4 0" fill="none" stroke="#3f5a48" stroke-opacity="0.29" stroke-width="0.6"/><path d="M578.0 372.0 a6.7 4.1 0 0 0 13.4 0" fill="none" stroke="#3f5a48" stroke-opacity="0.22" stroke-width="0.6"/><ellipse cx="584.7" cy="340.0" rx="6.7" ry="4.1" fill="#8fae8c" stroke="#5a7a5e" stroke-width="0.6"/><path d="M563.2 348.6 v37.0 a6.7 4.1 0 0 0 13.4 0 v-37.0 z" fill="url(#vgf)"/><path d="M563.2 356.6 a6.7 4.1 0 0 0 13.4 0" fill="none" stroke="#3f5a48" stroke-opacity="0.43" stroke-width="0.6"/><path d="M563.2 364.6 a6.7 4.1 0 0 0 13.4 0" fill="none" stroke="#3f5a48" stroke-opacity="0.36" stroke-width="0.6"/><path d="M563.2 372.6 a6.7 4.1 0 0 0 13.4 0" fill="none" stroke="#3f5a48" stroke-opacity="0.29" stroke-width="0.6"/><path d="M563.2 380.6 a6.7 4.1 0 0 0 13.4 0" fill="none" stroke="#3f5a48" stroke-opacity="0.22" stroke-width="0.6"/><ellipse cx="569.9" cy="348.6" rx="6.7" ry="4.1" fill="#8fae8c" stroke="#5a7a5e" stroke-width="0.6"/><path d="M548.4 357.1 v37.0 a6.7 4.1 0 0 0 13.4 0 v-37.0 z" fill="url(#vgf)"/><path d="M548.4 365.1 a6.7 4.1 0 0 0 13.4 0" fill="none" stroke="#3f5a48" stroke-opacity="0.43" stroke-width="0.6"/><path d="M548.4 373.1 a6.7 4.1 0 0 0 13.4 0" fill="none" stroke="#3f5a48" stroke-opacity="0.36" stroke-width="0.6"/><path d="M548.4 381.1 a6.7 4.1 0 0 0 13.4 0" fill="none" stroke="#3f5a48" stroke-opacity="0.29" stroke-width="0.6"/><path d="M548.4 389.1 a6.7 4.1 0 0 0 13.4 0" fill="none" stroke="#3f5a48" stroke-opacity="0.22" stroke-width="0.6"/><ellipse cx="555.1" cy="357.1" rx="6.7" ry="4.1" fill="#8fae8c" stroke="#5a7a5e" stroke-width="0.6"/><path d="M460.1 357.5 v37.0 a6.7 4.1 0 0 0 13.4 0 v-37.0 z" fill="url(#vgf)"/><path d="M460.1 365.5 a6.7 4.1 0 0 0 13.4 0" fill="none" stroke="#3f5a48" stroke-opacity="0.43" stroke-width="0.6"/><path d="M460.1 373.5 a6.7 4.1 0 0 0 13.4 0" fill="none" stroke="#3f5a48" stroke-opacity="0.36" stroke-width="0.6"/><path d="M460.1 381.5 a6.7 4.1 0 0 0 13.4 0" fill="none" stroke="#3f5a48" stroke-opacity="0.29" stroke-width="0.6"/><path d="M460.1 389.5 a6.7 4.1 0 0 0 13.4 0" fill="none" stroke="#3f5a48" stroke-opacity="0.22" stroke-width="0.6"/><ellipse cx="466.8" cy="357.5" rx="6.7" ry="4.1" fill="#8fae8c" stroke="#5a7a5e" stroke-width="0.6"/><path d="M533.6 365.7 v37.0 a6.7 4.1 0 0 0 13.4 0 v-37.0 z" fill="url(#vgf)"/><path d="M533.6 373.7 a6.7 4.1 0 0 0 13.4 0" fill="none" stroke="#3f5a48" stroke-opacity="0.43" stroke-width="0.6"/><path d="M533.6 381.7 a6.7 4.1 0 0 0 13.4 0" fill="none" stroke="#3f5a48" stroke-opacity="0.36" stroke-width="0.6"/><path d="M533.6 389.7 a6.7 4.1 0 0 0 13.4 0" fill="none" stroke="#3f5a48" stroke-opacity="0.29" stroke-width="0.6"/><path d="M533.6 397.7 a6.7 4.1 0 0 0 13.4 0" fill="none" stroke="#3f5a48" stroke-opacity="0.22" stroke-width="0.6"/><ellipse cx="540.3" cy="365.7" rx="6.7" ry="4.1" fill="#8fae8c" stroke="#5a7a5e" stroke-width="0.6"/><path d="M474.7 365.9 v37.0 a6.7 4.1 0 0 0 13.4 0 v-37.0 z" fill="url(#vgf)"/><path d="M474.7 373.9 a6.7 4.1 0 0 0 13.4 0" fill="none" stroke="#3f5a48" stroke-opacity="0.43" stroke-width="0.6"/><path d="M474.7 381.9 a6.7 4.1 0 0 0 13.4 0" fill="none" stroke="#3f5a48" stroke-opacity="0.36" stroke-width="0.6"/><path d="M474.7 389.9 a6.7 4.1 0 0 0 13.4 0" fill="none" stroke="#3f5a48" stroke-opacity="0.29" stroke-width="0.6"/><path d="M474.7 397.9 a6.7 4.1 0 0 0 13.4 0" fill="none" stroke="#3f5a48" stroke-opacity="0.22" stroke-width="0.6"/><ellipse cx="481.4" cy="365.9" rx="6.7" ry="4.1" fill="#8fae8c" stroke="#5a7a5e" stroke-width="0.6"/><path d="M518.7 374.2 v37.0 a6.7 4.1 0 0 0 13.4 0 v-37.0 z" fill="url(#vgf)"/><path d="M518.7 382.2 a6.7 4.1 0 0 0 13.4 0" fill="none" stroke="#3f5a48" stroke-opacity="0.43" stroke-width="0.6"/><path d="M518.7 390.2 a6.7 4.1 0 0 0 13.4 0" fill="none" stroke="#3f5a48" stroke-opacity="0.36" stroke-width="0.6"/><path d="M518.7 398.2 a6.7 4.1 0 0 0 13.4 0" fill="none" stroke="#3f5a48" stroke-opacity="0.29" stroke-width="0.6"/><path d="M518.7 406.2 a6.7 4.1 0 0 0 13.4 0" fill="none" stroke="#3f5a48" stroke-opacity="0.22" stroke-width="0.6"/><ellipse cx="525.4" cy="374.2" rx="6.7" ry="4.1" fill="#8fae8c" stroke="#5a7a5e" stroke-width="0.6"/><path d="M489.3 374.4 v37.0 a6.7 4.1 0 0 0 13.4 0 v-37.0 z" fill="url(#vgf)"/><path d="M489.3 382.4 a6.7 4.1 0 0 0 13.4 0" fill="none" stroke="#3f5a48" stroke-opacity="0.43" stroke-width="0.6"/><path d="M489.3 390.4 a6.7 4.1 0 0 0 13.4 0" fill="none" stroke="#3f5a48" stroke-opacity="0.36" stroke-width="0.6"/><path d="M489.3 398.4 a6.7 4.1 0 0 0 13.4 0" fill="none" stroke="#3f5a48" stroke-opacity="0.29" stroke-width="0.6"/><path d="M489.3 406.4 a6.7 4.1 0 0 0 13.4 0" fill="none" stroke="#3f5a48" stroke-opacity="0.22" stroke-width="0.6"/><ellipse cx="496.0" cy="374.4" rx="6.7" ry="4.1" fill="#8fae8c" stroke="#5a7a5e" stroke-width="0.6"/><path d="M503.9 382.8 v37.0 a6.7 4.1 0 0 0 13.4 0 v-37.0 z" fill="url(#vgf)"/><path d="M503.9 390.8 a6.7 4.1 0 0 0 13.4 0" fill="none" stroke="#3f5a48" stroke-opacity="0.43" stroke-width="0.6"/><path d="M503.9 398.8 a6.7 4.1 0 0 0 13.4 0" fill="none" stroke="#3f5a48" stroke-opacity="0.36" stroke-width="0.6"/><path d="M503.9 406.8 a6.7 4.1 0 0 0 13.4 0" fill="none" stroke="#3f5a48" stroke-opacity="0.29" stroke-width="0.6"/><path d="M503.9 414.8 a6.7 4.1 0 0 0 13.4 0" fill="none" stroke="#3f5a48" stroke-opacity="0.22" stroke-width="0.6"/><ellipse cx="510.6" cy="382.8" rx="6.7" ry="4.1" fill="#8fae8c" stroke="#5a7a5e" stroke-width="0.6"/><polygon points="502.3,370.4 542.3,347.4 542.3,343 502.3,366" fill="#dfe5ea" fill-opacity="0.6"/><rect x="502.3" y="338.0" width="1.9" height="32.4" fill="#dde3e8" fill-opacity="0.55"/><rect x="518.3" y="328.0" width="1.9" height="33.2" fill="#dde3e8" fill-opacity="0.55"/><rect x="534.0" y="322.0" width="1.9" height="30.2" fill="#dde3e8" fill-opacity="0.55"/><rect x="549.2" y="320.0" width="1.9" height="33.2" fill="#dde3e8" fill-opacity="0.55"/><polygon points="542.3,349 549.7,353.4 509.7,376.4 502.3,370.4" fill="#fff"/><line x1="541.6" y1="270" x2="541.6" y2="349" stroke="#2f4a3a" stroke-opacity="0.75" stroke-width="0.9" stroke-dasharray="9 3"/><rect x="810" y="206" width="469.5" height="345" fill="#fff"/><polygon points="1076.5,208.3 1279.6,324.3 1199.8,383.4 1199.8,442.4 1013.6,549.9 890.3,479.5 890.3,420.6 810.6,361.8" fill="#d6e1d6"/><polygon points="850.4,361.7 993.0,443.1 930.2,479.4 930.2,420.5" fill="#bccfbd"/><polygon points="1239.7,324.4 1097.3,406.6 1160.0,442.5 1160.0,383.5" fill="#bccfbd"/><polygon points="1076.6,394.9 1097.3,406.6 1013.6,454.9 993.0,443.1" fill="#fff"/><g fill="none" stroke="#4f7358" stroke-opacity="0.62" stroke-width="0.75"><polygon points="1076.5,208.3 810.6,361.8 1013.7,477.8 1279.6,324.3"/><polygon points="1076.5,231.2 850.4,361.7 1013.6,454.9 1239.7,324.4"/><polygon points="1076.6,313.0 890.3,420.6 1013.6,490.9 1199.8,383.4"/><polygon points="1076.6,372.0 890.3,479.5 1013.6,549.9 1199.8,442.4"/><polygon points="1076.6,335.9 930.2,420.5 1013.5,468.0 1160.0,383.5"/><polygon points="1076.6,394.9 930.2,479.4 1013.5,527.0 1160.0,442.5"/><line x1="1076.5" y1="208.3" x2="1076.6" y2="313.0"/><line x1="1076.5" y1="231.2" x2="1076.6" y2="335.9"/><line x1="1076.6" y1="313.0" x2="1076.6" y2="372.0"/><line x1="1076.6" y1="335.9" x2="1076.6" y2="394.9"/><line x1="810.6" y1="361.8" x2="890.3" y2="420.6"/><line x1="850.4" y1="361.7" x2="930.2" y2="420.5"/><line x1="890.3" y1="420.6" x2="890.3" y2="479.5"/><line x1="930.2" y1="420.5" x2="930.2" y2="479.4"/><line x1="1013.7" y1="477.8" x2="1013.6" y2="490.9"/><line x1="1013.6" y1="454.9" x2="1013.5" y2="468.0"/><line x1="1013.6" y1="490.9" x2="1013.6" y2="549.9"/><line x1="1013.5" y1="468.0" x2="1013.5" y2="527.0"/><line x1="1279.6" y1="324.3" x2="1199.8" y2="383.4"/><line x1="1239.7" y1="324.4" x2="1160.0" y2="383.5"/><line x1="1199.8" y1="383.4" x2="1199.8" y2="442.4"/><line x1="1160.0" y1="383.5" x2="1160.0" y2="442.5"/></g>
<!-- curves -->
<g clip-path="url(#plotclip)"><path d="M273.60 170.90 C294.79 168.35 358.35 159.12 400.72 155.60 C443.09 152.08 485.47 149.90 527.84 149.80 C570.21 149.70 612.59 151.78 654.96 155.00 C697.33 158.22 739.71 164.37 782.08 169.10 C824.45 173.83 866.83 179.48 909.20 183.40 C951.57 187.32 993.95 190.60 1036.32 192.60 C1078.69 194.60 1121.07 195.60 1163.44 195.40 C1205.81 195.20 1248.19 193.45 1290.56 191.40 C1332.93 189.35 1375.31 185.87 1417.68 183.10 C1460.05 180.33 1523.61 176.18 1544.80 174.80" fill="none" stroke="#ff0000" stroke-width="7" stroke-linejoin="round"/><circle cx="273.6" cy="170.9" r="13.55" fill="#ff0000"/><circle cx="400.7" cy="155.6" r="13.55" fill="#ff0000"/><circle cx="527.8" cy="149.8" r="13.55" fill="#ff0000"/><circle cx="655.0" cy="155.0" r="13.55" fill="#ff0000"/><circle cx="782.1" cy="169.1" r="13.55" fill="#ff0000"/><circle cx="909.2" cy="183.4" r="13.55" fill="#ff0000"/><circle cx="1036.3" cy="192.6" r="13.55" fill="#ff0000"/><circle cx="1163.4" cy="195.4" r="13.55" fill="#ff0000"/><circle cx="1290.6" cy="191.4" r="13.55" fill="#ff0000"/><circle cx="1417.7" cy="183.1" r="13.55" fill="#ff0000"/><circle cx="1544.8" cy="174.8" r="13.55" fill="#ff0000"/><path d="M273.60 564.70 C294.79 574.63 358.35 599.72 400.72 624.30 C443.09 648.88 485.47 681.72 527.84 712.20 C570.21 742.68 612.59 777.55 654.96 807.20 C697.33 836.85 739.71 870.45 782.08 890.10 C824.45 909.75 866.83 925.20 909.20 925.10 C951.57 925.00 993.95 907.43 1036.32 889.50 C1078.69 871.57 1121.07 842.05 1163.44 817.50 C1205.81 792.95 1248.19 765.83 1290.56 742.20 C1332.93 718.57 1375.31 695.97 1417.68 675.70 C1460.05 655.43 1523.61 629.78 1544.80 620.60" fill="none" stroke="#ff0000" stroke-width="7" stroke-linejoin="round"/><circle cx="273.6" cy="564.7" r="13.55" fill="#ff0000"/><circle cx="400.7" cy="624.3" r="13.55" fill="#ff0000"/><circle cx="527.8" cy="712.2" r="13.55" fill="#ff0000"/><circle cx="655.0" cy="807.2" r="13.55" fill="#ff0000"/><circle cx="782.1" cy="890.1" r="13.55" fill="#ff0000"/><circle cx="909.2" cy="925.1" r="13.55" fill="#ff0000"/><circle cx="1036.3" cy="889.5" r="13.55" fill="#ff0000"/><circle cx="1163.4" cy="817.5" r="13.55" fill="#ff0000"/><circle cx="1290.6" cy="742.2" r="13.55" fill="#ff0000"/><circle cx="1417.7" cy="675.7" r="13.55" fill="#ff0000"/><circle cx="1544.8" cy="620.6" r="13.55" fill="#ff0000"/><path d="M273.60 137.20 C294.79 136.58 358.35 134.67 400.72 133.50 C443.09 132.33 485.47 131.38 527.84 130.20 C570.21 129.02 612.59 127.63 654.96 126.40 C697.33 125.17 739.71 123.97 782.08 122.80 C824.45 121.63 866.83 120.53 909.20 119.40 C951.57 118.27 993.95 117.13 1036.32 116.00 C1078.69 114.87 1121.07 113.72 1163.44 112.60 C1205.81 111.48 1248.19 110.40 1290.56 109.30 C1332.93 108.20 1375.31 107.08 1417.68 106.00 C1460.05 104.92 1523.61 103.33 1544.80 102.80" fill="none" stroke="#0000ff" stroke-width="7" stroke-linejoin="round"/><rect x="260.9" y="124.5" width="25.4" height="25.4" fill="#0000ff"/><rect x="388.0" y="120.8" width="25.4" height="25.4" fill="#0000ff"/><rect x="515.1" y="117.5" width="25.4" height="25.4" fill="#0000ff"/><rect x="642.3" y="113.7" width="25.4" height="25.4" fill="#0000ff"/><rect x="769.4" y="110.1" width="25.4" height="25.4" fill="#0000ff"/><rect x="896.5" y="106.7" width="25.4" height="25.4" fill="#0000ff"/><rect x="1023.6" y="103.3" width="25.4" height="25.4" fill="#0000ff"/><rect x="1150.7" y="99.9" width="25.4" height="25.4" fill="#0000ff"/><rect x="1277.9" y="96.6" width="25.4" height="25.4" fill="#0000ff"/><rect x="1405.0" y="93.3" width="25.4" height="25.4" fill="#0000ff"/><rect x="1532.1" y="90.1" width="25.4" height="25.4" fill="#0000ff"/><path d="M273.60 665.30 C294.79 662.00 358.35 651.60 400.72 645.50 C443.09 639.40 485.47 633.92 527.84 628.70 C570.21 623.48 612.59 618.73 654.96 614.20 C697.33 609.67 739.71 605.33 782.08 601.50 C824.45 597.67 866.83 594.43 909.20 591.20 C951.57 587.97 993.95 584.92 1036.32 582.10 C1078.69 579.28 1121.07 576.67 1163.44 574.30 C1205.81 571.93 1248.19 569.85 1290.56 567.90 C1332.93 565.95 1375.31 564.23 1417.68 562.60 C1460.05 560.97 1523.61 558.85 1544.80 558.10" fill="none" stroke="#0000ff" stroke-width="7" stroke-linejoin="round"/><rect x="260.9" y="652.6" width="25.4" height="25.4" fill="#0000ff"/><rect x="388.0" y="632.8" width="25.4" height="25.4" fill="#0000ff"/><rect x="515.1" y="616.0" width="25.4" height="25.4" fill="#0000ff"/><rect x="642.3" y="601.5" width="25.4" height="25.4" fill="#0000ff"/><rect x="769.4" y="588.8" width="25.4" height="25.4" fill="#0000ff"/><rect x="896.5" y="578.5" width="25.4" height="25.4" fill="#0000ff"/><rect x="1023.6" y="569.4" width="25.4" height="25.4" fill="#0000ff"/><rect x="1150.7" y="561.6" width="25.4" height="25.4" fill="#0000ff"/><rect x="1277.9" y="555.2" width="25.4" height="25.4" fill="#0000ff"/><rect x="1405.0" y="549.9" width="25.4" height="25.4" fill="#0000ff"/><rect x="1532.1" y="545.4" width="25.4" height="25.4" fill="#0000ff"/></g>
<!-- annotations -->
<line x1="816.2" y1="335.9" x2="1050.8" y2="201.8" stroke="#000" stroke-width="3.6"/><polygon points="802.3,343.8 816.4,328.2 822.9,339.5" fill="#000"/><polygon points="1064.7,193.9 1050.6,209.5 1044.1,198.2" fill="#000"/><line x1="794.3" y1="334.2" x2="810.9" y2="361.3" stroke="#000" stroke-width="3.6"/><line x1="1076.5" y1="208.3" x2="1059.9" y2="180.2" stroke="#000" stroke-width="2.6"/><line x1="1101.6" y1="201.9" x2="1273.0" y2="300.7" stroke="#000" stroke-width="3.6"/><polygon points="1087.7,193.9 1108.3,198.3 1101.8,209.5" fill="#000"/><polygon points="1286.9,308.7 1266.3,304.3 1272.8,293.1" fill="#000"/><line x1="1076.5" y1="208.3" x2="1092.0" y2="180.2" stroke="#000" stroke-width="2.6"/><line x1="1280.0" y1="322.4" x2="1294.3" y2="297.5" stroke="#000" stroke-width="2.6"/><line x1="897.6" y1="499.7" x2="994.0" y2="552.9" stroke="#000" stroke-width="3.6"/><polygon points="883.6,492.0 904.3,496.0 898.0,507.3" fill="#000"/><polygon points="1008.0,560.6 987.3,556.6 993.6,545.3" fill="#000"/><line x1="890.0" y1="477.7" x2="874.0" y2="506.4" stroke="#000" stroke-width="3.6"/><line x1="1013.7" y1="549.4" x2="996.8" y2="576.5" stroke="#000" stroke-width="2.6"/><line x1="1033.0" y1="552.7" x2="1191.7" y2="463.2" stroke="#000" stroke-width="3.6"/><polygon points="1019.1,560.6 1033.3,545.1 1039.7,556.4" fill="#000"/><polygon points="1205.6,455.3 1191.4,470.8 1185.0,459.5" fill="#000"/><line x1="1013.7" y1="549.4" x2="1030.3" y2="578.1" stroke="#000" stroke-width="2.6"/><line x1="1197.7" y1="442.6" x2="1215.2" y2="469.7" stroke="#000" stroke-width="3.6"/><line x1="890.0" y1="382.0" x2="918.7" y2="398.0" stroke="#000" stroke-width="4.6"/><line x1="877.2" y1="402.7" x2="905.9" y2="418.7" stroke="#000" stroke-width="4.6"/><line x1="925.0" y1="354.3" x2="914.4" y2="372.3" stroke="#000" stroke-width="3.6"/><polygon points="905.9,386.8 910.2,364.9 922.9,372.4" fill="#000"/><line x1="868.6" y1="444.2" x2="878.5" y2="426.9" stroke="#000" stroke-width="3.6"/><polygon points="886.8,412.3 882.8,434.2 870.0,426.9" fill="#000"/><line x1="1244.0" y1="325.0" x2="1435.3" y2="325.0" stroke="#000" stroke-width="3.3"/><line x1="1198.9" y1="441.3" x2="1435.3" y2="441.3" stroke="#000" stroke-width="3.3"/><line x1="1199.9" y1="384.6" x2="1231.6" y2="384.6" stroke="#000" stroke-width="3.3"/><line x1="1214.6" y1="400.7" x2="1214.6" y2="425.1" stroke="#000" stroke-width="3.3"/><polygon points="1214.6,385.5 1221.2,404.5 1208.0,404.5" fill="#000"/><polygon points="1214.6,440.3 1208.0,421.3 1221.2,421.3" fill="#000"/><line x1="1417.2" y1="341.2" x2="1417.2" y2="425.1" stroke="#000" stroke-width="3.3"/><polygon points="1417.2,326.0 1423.8,345.0 1410.6,345.0" fill="#000"/><polygon points="1417.2,440.3 1410.6,421.3 1423.8,421.3" fill="#000"/><line x1="1417.9" y1="379.8" x2="1475.3" y2="452.1" stroke="#000" stroke-width="2.6"/><g font-family="'Liberation Serif',serif" font-weight="bold" font-size="70" fill="#000"><text x="1315.8" y="433.5" text-anchor="middle" font-size="73">1.016</text><text x="1453.5" y="512.6" text-anchor="middle" font-size="73">2.032</text><text x="809.8" y="463.8" text-anchor="middle">0.4</text><text transform="translate(907.5 245.5) rotate(-30)" text-anchor="middle" y="23">5.34</text><text transform="translate(1235 239) rotate(30)" text-anchor="middle" y="23">4.07</text><text transform="translate(925 558) rotate(30)" text-anchor="middle" y="23">2.47</text><text transform="translate(1161.5 522.5) rotate(-31.5)" text-anchor="middle" y="23">3.74</text><text x="570" y="559.6" font-size="71.5">Unit:<tspan font-style="italic">mm</tspan></text></g><ellipse cx="497" cy="685" rx="13.6" ry="80.9" fill="none" stroke="#000" stroke-width="2.8"/><line x1="498.8" y1="765.9" x2="432.1" y2="765.9" stroke="#000" stroke-width="3.6"/><polygon points="413.7,765.9 436.7,758.2 436.7,773.6" fill="#000"/><ellipse cx="1369.1" cy="156.3" rx="14.1" ry="81.6" fill="none" stroke="#000" stroke-width="2.8"/><line x1="1367.5" y1="239.2" x2="1429.1" y2="239.2" stroke="#000" stroke-width="3.6"/><polygon points="1447.5,239.2 1424.5,246.9 1424.5,231.5" fill="#000"/>
<!-- legend -->
<line x1="284.5" y1="926.3" x2="428.5" y2="926.3" stroke="#ff0000" stroke-width="7" stroke-linecap="round"/><circle cx="356.4" cy="926.3" r="13.55" fill="#ff0000"/><line x1="284.5" y1="1026.9" x2="428.5" y2="1026.9" stroke="#0000ff" stroke-width="7" stroke-linecap="round"/><rect x="344.0" y="1014.4" width="25" height="25" fill="#0000ff"/><g font-family="'Liberation Serif',serif" font-weight="bold" font-size="81.6" fill="#000"><text x="450.5" y="954.5">SIW Horn</text><text x="450.2" y="1054.2">Metal Horn</text></g>
<!-- axes -->
<rect x="273.6" y="53.8" width="1271.2" height="1024.1" fill="none" stroke="#000" stroke-width="7.2"/><g stroke="#000" stroke-width="7.2"><line x1="253.1" y1="53.8" x2="273.6" y2="53.8"/><line x1="263.3" y1="139.1" x2="273.6" y2="139.1"/><line x1="253.1" y1="224.5" x2="273.6" y2="224.5"/><line x1="263.3" y1="309.8" x2="273.6" y2="309.8"/><line x1="253.1" y1="395.2" x2="273.6" y2="395.2"/><line x1="263.3" y1="480.5" x2="273.6" y2="480.5"/><line x1="253.1" y1="565.9" x2="273.6" y2="565.9"/><line x1="263.3" y1="651.2" x2="273.6" y2="651.2"/><line x1="253.1" y1="736.5" x2="273.6" y2="736.5"/><line x1="263.3" y1="821.9" x2="273.6" y2="821.9"/><line x1="253.1" y1="907.2" x2="273.6" y2="907.2"/><line x1="263.3" y1="992.6" x2="273.6" y2="992.6"/><line x1="253.1" y1="1077.9" x2="273.6" y2="1077.9"/><line x1="273.6" y1="1077.9" x2="273.6" y2="1098.2"/><line x1="400.7" y1="1077.9" x2="400.7" y2="1087.9"/><line x1="527.8" y1="1077.9" x2="527.8" y2="1098.2"/><line x1="655.0" y1="1077.9" x2="655.0" y2="1087.9"/><line x1="782.1" y1="1077.9" x2="782.1" y2="1098.2"/><line x1="909.2" y1="1077.9" x2="909.2" y2="1087.9"/><line x1="1036.3" y1="1077.9" x2="1036.3" y2="1098.2"/><line x1="1163.4" y1="1077.9" x2="1163.4" y2="1087.9"/><line x1="1290.6" y1="1077.9" x2="1290.6" y2="1098.2"/><line x1="1417.7" y1="1077.9" x2="1417.7" y2="1087.9"/><line x1="1544.8" y1="1077.9" x2="1544.8" y2="1098.2"/></g><g stroke="#000" stroke-width="4"><line x1="1534.5" y1="139.1" x2="1544.8" y2="139.1"/><line x1="1524.3" y1="224.5" x2="1544.8" y2="224.5"/><line x1="1534.5" y1="309.8" x2="1544.8" y2="309.8"/><line x1="1524.3" y1="395.2" x2="1544.8" y2="395.2"/><line x1="1534.5" y1="480.5" x2="1544.8" y2="480.5"/><line x1="1524.3" y1="565.9" x2="1544.8" y2="565.9"/><line x1="1534.5" y1="651.2" x2="1544.8" y2="651.2"/><line x1="1524.3" y1="736.5" x2="1544.8" y2="736.5"/><line x1="1534.5" y1="821.9" x2="1544.8" y2="821.9"/><line x1="1524.3" y1="907.2" x2="1544.8" y2="907.2"/><line x1="1534.5" y1="992.6" x2="1544.8" y2="992.6"/></g><g font-family="'Liberation Serif',serif" font-weight="bold" font-size="85" fill="#000"><text x="272.4" y="1177.3" text-anchor="middle">72</text><text x="526.6" y="1177.3" text-anchor="middle">74</text><text x="780.9" y="1177.3" text-anchor="middle">76</text><text x="1035.1" y="1177.3" text-anchor="middle">78</text><text x="1289.4" y="1177.3" text-anchor="middle">80</text><text x="1543.6" y="1177.3" text-anchor="middle">82</text><text x="240.2" y="79.8" text-anchor="end">−5</text><text x="240.2" y="250.5" text-anchor="end">−10</text><text x="240.2" y="421.2" text-anchor="end">−15</text><text x="240.2" y="591.9" text-anchor="end">−20</text><text x="240.2" y="762.5" text-anchor="end">−25</text><text x="240.2" y="933.2" text-anchor="end">−30</text><text x="240.2" y="1103.9" text-anchor="end">−35</text><text x="1565" y="79.3" text-anchor="start">12</text><text x="1565" y="250.0" text-anchor="start">8</text><text x="1565" y="420.7" text-anchor="start">4</text><text x="1565" y="591.4" text-anchor="start">0</text><text x="1565" y="762.0" text-anchor="start">−4</text><text x="1565" y="932.7" text-anchor="start">−8</text><text x="1565" y="1103.4" text-anchor="start">−12</text></g><g font-family="'Liberation Serif',serif" font-weight="bold" fill="#000"><text x="909.2" y="1302.8" text-anchor="middle" font-size="82.5">Frequency(GHz)</text><text transform="translate(81.4 566) rotate(-90)" text-anchor="middle" font-size="83.5">S11(dB)</text><text transform="translate(1780.6 566.2) rotate(-90)" text-anchor="middle" font-size="82">Realized gain(dBi)</text></g></svg></body></html>
